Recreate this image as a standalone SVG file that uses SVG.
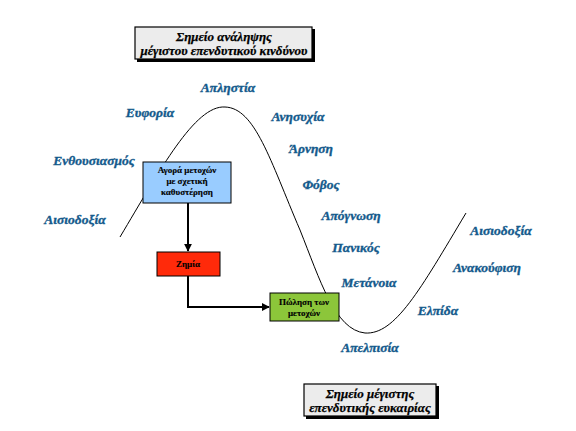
<svg xmlns="http://www.w3.org/2000/svg" width="576" height="431" viewBox="0 0 576 431">
<defs>
<marker id="ah" viewBox="0 0 10 10" refX="9" refY="5" markerWidth="4" markerHeight="4" orient="auto" markerUnits="strokeWidth"><path d="M0,0 L10,5 L0,10 z" fill="#000"/></marker>
<style>
.lbl{font-family:"Liberation Serif","DejaVu Serif",serif;font-weight:bold;font-style:italic;font-size:13.5px;fill:#145a8c;stroke:#145a8c;stroke-width:0.35px;text-anchor:middle}
.cap{font-family:"Liberation Serif","DejaVu Serif",serif;font-weight:bold;font-style:italic;font-size:13px;fill:#000;stroke:#000;stroke-width:0.25px;text-anchor:middle}
.bx{font-family:"Liberation Serif","DejaVu Serif",serif;font-weight:bold;font-size:9px;fill:#000;stroke:#000;stroke-width:0.15px;text-anchor:middle}
.note{fill:#ececec;stroke:#000;stroke-width:1.2}
.shadow{fill:#000}
.node{stroke:#000;stroke-width:1}
.conn{fill:none;stroke:#000;stroke-width:2}
</style>
</defs>
<rect width="576" height="431" fill="#fff"/>
<path id="curve" d="M120,237 C160,170 195,105 225,107 C255,108 270,160 300,230 C320,280 335,330 365,333 C395,335 420,290 466,213" fill="none" stroke="#000" stroke-width="1"/>
<g id="labels">
<text class="lbl" x="228" y="92">Απληστία</text>
<text class="lbl" x="150" y="117">Ευφορία</text>
<text class="lbl" x="298" y="121">Ανησυχία</text>
<text class="lbl" x="94" y="165">Ενθουσιασμός</text>
<text class="lbl" x="311" y="153">Άρνηση</text>
<text class="lbl" x="321" y="189">Φόβος</text>
<text class="lbl" x="75" y="224">Αισιοδοξία</text>
<text class="lbl" x="351" y="220">Απόγνωση</text>
<text class="lbl" x="356" y="252">Πανικός</text>
<text class="lbl" x="501" y="235">Αισιοδοξία</text>
<text class="lbl" x="487" y="272">Ανακούφιση</text>
<text class="lbl" x="369" y="287">Μετάνοια</text>
<text class="lbl" x="438" y="315">Ελπίδα</text>
<text class="lbl" x="370" y="352">Απελπισία</text>
</g>
<g id="note-top">
<rect class="shadow" x="137" y="29" width="178" height="33"/>
<rect class="note" x="135" y="27" width="177" height="32"/>
<text class="cap" x="224" y="41">Σημείο ανάληψης</text>
<text class="cap" x="224" y="55">μέγιστου επενδυτικού  κινδύνου</text>
</g>
<g id="note-bottom">
<rect class="shadow" x="306" y="386" width="133" height="33"/>
<rect class="note" x="304" y="384" width="132" height="32"/>
<text class="cap" x="370" y="398">Σημείο μέγιστης</text>
<text class="cap" x="370" y="412">επενδυτικής ευκαιρίας</text>
</g>
<g id="connectors">
<path class="conn" d="M188,203 L188,251" marker-end="url(#ah)"/>
<path class="conn" d="M188,276 L188,307 L269,307" marker-end="url(#ah)"/>
</g>
<g id="buy">
<rect class="node" x="143" y="162" width="88" height="41" fill="#99ccff"/>
<text class="bx" x="187" y="173">Αγορά μετοχών</text>
<text class="bx" x="187" y="184">με σχετική</text>
<text class="bx" x="187" y="195">καθυστέρηση</text>
</g>
<g id="loss">
<rect class="node" x="157" y="252" width="63" height="24" fill="#ff2a0a"/>
<text class="bx" x="188" y="267">Ζημία</text>
</g>
<g id="sell">
<rect class="node" x="270" y="293" width="69" height="28" fill="#8cc63a"/>
<text class="bx" x="304" y="305">Πώληση των</text>
<text class="bx" x="304" y="316">μετοχών</text>
</g>
</svg>
